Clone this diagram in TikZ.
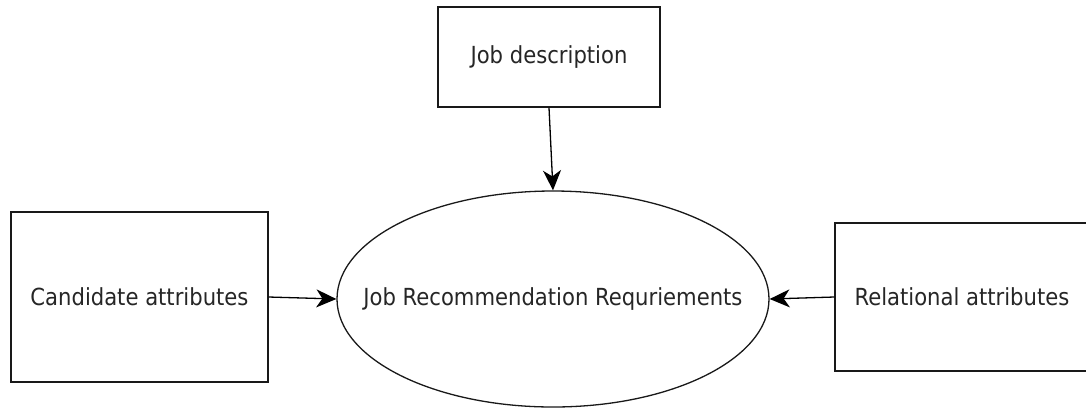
\documentclass[tikz,border=0pt]{standalone}
\usepackage{fontspec}
\setmainfont{DejaVu Sans Condensed}
\usetikzlibrary{shapes.geometric,arrows.meta}
\tikzset{
  txt/.style={text=black!85, font=\fontsize{23.5}{27}\selectfont},
  box/.style={draw=black!90, line width=1.3pt, rectangle, inner sep=0pt, txt},
  oval/.style={draw=black!90, line width=1.3pt, ellipse, inner sep=0pt, minimum width=432pt, minimum height=216pt},
  conn/.style={draw=black, line width=1.3pt, -{Stealth[length=20pt,width=18pt,inset=6pt]}}
}
\begin{document}
\begin{tikzpicture}[x=1pt,y=-1pt]
\useasboundingbox[fill=white] (0,0) rectangle (1086,408);
\node[box, minimum width=222pt, minimum height=100pt] (job) at (549,57) {Job description};
\node[box, minimum width=257pt, minimum height=170pt] (cand) at (139.5,297) {Candidate attributes};
\node[box, minimum width=254pt, minimum height=148pt] (rel) at (962,297) {Relational attributes};
\node[oval, label={[txt]center:Job Recommendation Requriements}] (req) at (553,299) {};
\draw[conn] (job.south) -- (req.north);
\draw[conn] (cand.east) -- (req.west);
\draw[conn] (rel.west) -- (req.east);
\end{tikzpicture}
\end{document}
